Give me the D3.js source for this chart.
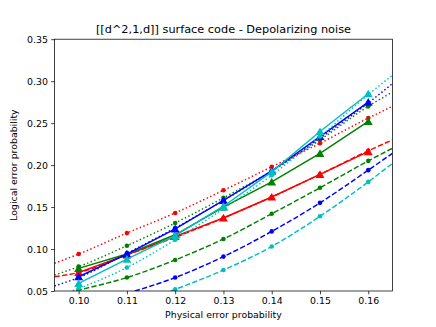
<!DOCTYPE html>
<html>
<head>
<meta charset="utf-8">
<script src="https://cdn.jsdelivr.net/npm/d3@7"></script>
<style>
  body { margin: 0; background: #fff; }
  text { font-family: "DejaVu Sans", sans-serif; fill: #000; }
</style>
</head>
<body>
<svg width="436" height="327"></svg>
<script>
// physical error probabilities where markers sit
var pErr = [0.10, 0.11, 0.12, 0.13, 0.14, 0.15, 0.16];
// the fit curves run out to the axis edges
var edgeX = [0.095, 0.165];

var colors = { red: "#ff0000", green: "#008000", blue: "#0000ff", cyan: "#00bfbf" };
var order = ["red", "green", "blue", "cyan"];

// solid lines, triangle markers
var solidRed   = [0.072, 0.093, 0.115, 0.137, 0.162, 0.189, 0.216];
var solidGreen = [0.077, 0.094, 0.117, 0.150, 0.180, 0.214, 0.252];
var solidBlue  = [0.067, 0.094, 0.124, 0.158, 0.193, 0.234, 0.275];
var solidCyan  = [0.059, 0.088, 0.116, 0.151, 0.192, 0.240, 0.285];

// dotted fits, dot markers
var dotRed   = [0.094, 0.119, 0.143, 0.170, 0.198, 0.226, 0.256];
var dotGreen = [0.079, 0.104, 0.131, 0.161, 0.193, 0.230, 0.270];
var dotBlue  = [0.066, 0.095, 0.125, 0.158, 0.193, 0.232, 0.274];
var dotCyan  = [0.053, 0.078, 0.111, 0.148, 0.188, 0.234, 0.284];
var dotEdges = { red: [0.083, 0.270], green: [0.069, 0.287], blue: [0.056, 0.297], cyan: [0.043, 0.307] };

// dashed fits, dot markers
var dashRed   = [0.072, 0.093, 0.114, 0.137, 0.162, 0.189, 0.217];
var dashGreen = [0.051, 0.066, 0.087, 0.112, 0.142, 0.173, 0.205];
var dashBlue  = [0.030, 0.047, 0.066, 0.091, 0.121, 0.155, 0.194];
var dashCyan  = [0.016, 0.033, 0.052, 0.075, 0.103, 0.139, 0.180];
var dashEdges = { red: [0.067, 0.230], green: [0.044, 0.220], blue: [0.022, 0.214], cyan: [0.008, 0.202] };

var xTicks = [0.10, 0.11, 0.12, 0.13, 0.14, 0.15, 0.16];
var yTicks = [0.05, 0.10, 0.15, 0.20, 0.25, 0.30, 0.35];

var solid = { red: solidRed, green: solidGreen, blue: solidBlue, cyan: solidCyan };
var dotted = { red: dotRed, green: dotGreen, blue: dotBlue, cyan: dotCyan };
var dashed = { red: dashRed, green: dashGreen, blue: dashBlue, cyan: dashCyan };

var svg = d3.select("svg");
var mLeft = 54.5, mRight = 392.4, mTop = 39.2, mBottom = 291;

var x = d3.scaleLinear().domain([0.095, 0.165]).range([mLeft, mRight]);
var y = d3.scaleLinear().domain([0.05, 0.35]).range([mBottom, mTop]);

svg.append("defs").append("clipPath").attr("id", "plotclip")
  .append("rect")
    .attr("x", mLeft).attr("y", mTop)
    .attr("width", mRight - mLeft).attr("height", mBottom - mTop);

var plot = svg.append("g").attr("clip-path", "url(#plotclip)");

var line = d3.line()
    .x(function(d) { return x(d[0]); })
    .y(function(d) { return y(d[1]); });
var fitLine = d3.line()
    .curve(d3.curveMonotoneX)
    .x(function(d) { return x(d[0]); })
    .y(function(d) { return y(d[1]); });

function pts(vals) {
  return pErr.map(function(p, i) { return [p, vals[i]]; });
}
function withEdges(vals, edges) {
  return [[edgeX[0], edges[0]]].concat(pts(vals), [[edgeX[1], edges[1]]]);
}

var tri = d3.symbol().type(d3.symbolTriangle).size(34);

order.forEach(function(c) {
  var col = colors[c];

  // dotted fit
  plot.append("path")
      .datum(withEdges(dotted[c], dotEdges[c]))
      .attr("fill", "none")
      .attr("stroke", col)
      .attr("stroke-width", 1.45)
      .attr("stroke-dasharray", "1.45,2.4")
      .attr("d", fitLine);
  plot.selectAll(null)
      .data(pts(dotted[c]))
      .enter().append("circle")
      .attr("cx", function(d) { return x(d[0]); })
      .attr("cy", function(d) { return y(d[1]); })
      .attr("r", 2.3)
      .attr("fill", col);

  // dashed fit
  plot.append("path")
      .datum(withEdges(dashed[c], dashEdges[c]))
      .attr("fill", "none")
      .attr("stroke", col)
      .attr("stroke-width", 1.45)
      .attr("stroke-dasharray", "5.3,2.3")
      .attr("d", fitLine);
  plot.selectAll(null)
      .data(pts(dashed[c]))
      .enter().append("circle")
      .attr("cx", function(d) { return x(d[0]); })
      .attr("cy", function(d) { return y(d[1]); })
      .attr("r", 2.3)
      .attr("fill", col);

  // solid with triangles
  plot.append("path")
      .datum(pts(solid[c]))
      .attr("fill", "none")
      .attr("stroke", col)
      .attr("stroke-width", 1.45)
      .attr("d", line);
  plot.selectAll(null)
      .data(pts(solid[c]))
      .enter().append("path")
      .attr("transform", function(d) { return "translate(" + x(d[0]) + "," + (y(d[1]) + 1) + ")"; })
      .attr("d", tri)
      .attr("fill", col);
});

// axes
var xAxis = svg.append("g")
    .attr("transform", "translate(0," + mBottom + ")")
    .call(d3.axisBottom(x).tickValues(xTicks).tickFormat(d3.format(".2f")).tickSizeOuter(0).tickSize(3.3).tickPadding(3.3));
var yAxis = svg.append("g")
    .attr("transform", "translate(" + mLeft + ",0)")
    .call(d3.axisLeft(y).tickValues(yTicks).tickFormat(d3.format(".2f")).tickSizeOuter(0).tickSize(3.3).tickPadding(3.3));
[xAxis, yAxis].forEach(function(a) {
  a.select(".domain").remove();
  a.selectAll("line").attr("stroke", "#000").attr("stroke-width", 0.75);
  a.selectAll("text").attr("font-size", "9.4px").attr("font-family", "DejaVu Sans");
});

svg.append("rect")
    .attr("x", mLeft).attr("y", mTop)
    .attr("width", mRight - mLeft).attr("height", mBottom - mTop)
    .attr("fill", "none").attr("stroke", "#000").attr("stroke-width", 0.75);

svg.append("text")
    .attr("x", (mLeft + mRight) / 2).attr("y", 33)
    .attr("text-anchor", "middle").attr("font-size", "11.3px")
    .text("[[d^2,1,d]] surface code - Depolarizing noise");

svg.append("text")
    .attr("x", (mLeft + mRight) / 2).attr("y", 318)
    .attr("text-anchor", "middle").attr("font-size", "9.4px")
    .text("Physical error probability");

svg.append("text")
    .attr("transform", "translate(17," + ((mTop + mBottom) / 2) + ") rotate(-90)")
    .attr("text-anchor", "middle").attr("font-size", "9.4px")
    .text("Logical error probability");
</script>
</body>
</html>
